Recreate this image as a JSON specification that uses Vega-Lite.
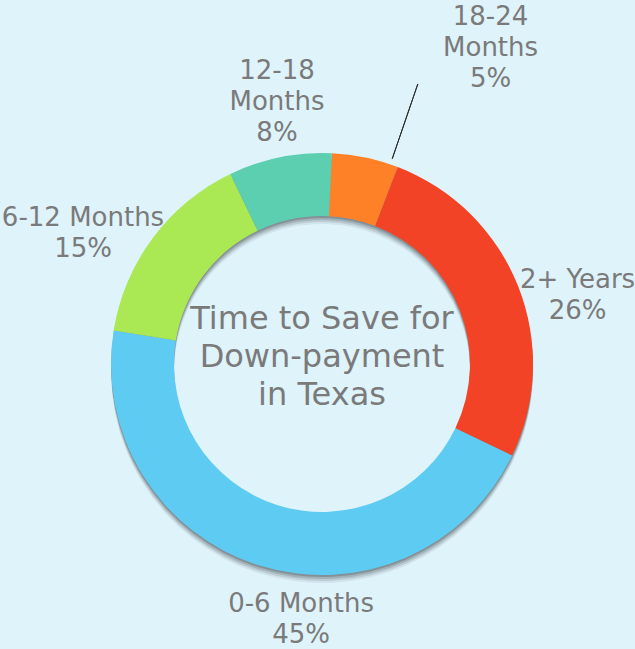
{
  "$schema": "https://vega.github.io/schema/vega-lite/v6.json",
  "width": 626,
  "height": 570,
  "autosize": {"type": "none"},
  "padding": {"left": 9, "top": 79, "right": 0, "bottom": 0},
  "background": "#dff3fb",
  "config": {"view": {"stroke": null}, "text": {"font": "DejaVu Sans"}},
  "data": {
    "values": [
      {"label": "18-24 Months", "pct": 5.1, "k": 1, "lbl": "18-24\nMonths\n5%"},
      {"label": "2+ Years", "pct": 26.3, "k": 2, "lbl": "2+ Years\n26%"},
      {"label": "0-6 Months", "pct": 45.4, "k": 3, "lbl": "0-6 Months\n45%"},
      {"label": "6-12 Months", "pct": 15.3, "k": 4, "lbl": "6-12 Months\n15%"},
      {"label": "12-18 Months", "pct": 7.9, "k": 5, "lbl": "12-18\nMonths\n8%"}
    ]
  },
  "layer": [
    {
      "mark": {"type": "arc", "radius": 211, "radius2": 148, "yOffset": 8, "fill": "#000000", "opacity": 0.06},
      "encoding": {
        "theta": {"field": "pct", "type": "quantitative", "stack": true, "scale": {"range": [0.047, 6.330]}},
        "order": {"field": "k", "type": "quantitative"},
        "detail": {"field": "label", "type": "nominal"}
      }
    },
    {
      "mark": {"type": "arc", "radius": 211, "radius2": 148, "yOffset": 6, "fill": "#000000", "opacity": 0.1},
      "encoding": {
        "theta": {"field": "pct", "type": "quantitative", "stack": true},
        "order": {"field": "k", "type": "quantitative"},
        "detail": {"field": "label", "type": "nominal"}
      }
    },
    {
      "mark": {"type": "arc", "radius": 211, "radius2": 148, "yOffset": 4, "fill": "#000000", "opacity": 0.13},
      "encoding": {
        "theta": {"field": "pct", "type": "quantitative", "stack": true},
        "order": {"field": "k", "type": "quantitative"},
        "detail": {"field": "label", "type": "nominal"}
      }
    },
    {
      "mark": {"type": "arc", "radius": 211, "radius2": 148, "yOffset": 2, "fill": "#000000", "opacity": 0.18},
      "encoding": {
        "theta": {"field": "pct", "type": "quantitative", "stack": true},
        "order": {"field": "k", "type": "quantitative"},
        "detail": {"field": "label", "type": "nominal"}
      }
    },
    {
      "mark": {"type": "arc", "radius": 211, "radius2": 148},
      "encoding": {
        "theta": {"field": "pct", "type": "quantitative", "stack": true},
        "order": {"field": "k", "type": "quantitative"},
        "color": {
          "field": "label",
          "type": "nominal",
          "scale": {
            "domain": ["18-24 Months", "2+ Years", "0-6 Months", "6-12 Months", "12-18 Months"],
            "range": ["#fe8127", "#f24326", "#5ecbf2", "#aae953", "#5ccfb1"]
          },
          "legend": null
        }
      }
    },
    {
      "transform": [{"filter": "datum.k === 1"}],
      "mark": {"type": "arc", "radius": 296, "radius2": 217, "fill": null, "stroke": "#2b2b2b", "strokeWidth": 1},
      "encoding": {
        "theta": {"datum": 4.5, "type": "quantitative"},
        "theta2": {"datum": 4.5}
      }
    },
    {
      "mark": {"type": "text", "radius": 386, "thetaOffset": 0.2447, "fontSize": 26, "lineHeight": 31, "lineBreak": "\n", "align": "center", "baseline": "middle", "fill": "#7a7a7a"},
      "encoding": {
        "theta": {"field": "pct", "type": "quantitative", "stack": true},
        "order": {"field": "k", "type": "quantitative"},
        "detail": {"field": "label", "type": "nominal"},
        "text": {"field": "lbl", "type": "nominal"},
        "opacity": {"condition": {"test": "datum.k === 1", "value": 1}, "value": 0}
      }
    },
    {
      "mark": {"type": "text", "radius": 269, "thetaOffset": 0.0599, "fontSize": 26, "lineHeight": 31, "lineBreak": "\n", "align": "center", "baseline": "middle", "fill": "#7a7a7a"},
      "encoding": {
        "theta": {"field": "pct", "type": "quantitative", "stack": true},
        "order": {"field": "k", "type": "quantitative"},
        "detail": {"field": "label", "type": "nominal"},
        "text": {"field": "lbl", "type": "nominal"},
        "opacity": {"condition": {"test": "datum.k === 2", "value": 1}, "value": 0}
      }
    },
    {
      "mark": {"type": "text", "radius": 241, "thetaOffset": -0.2175, "fontSize": 26, "lineHeight": 31, "lineBreak": "\n", "align": "center", "baseline": "middle", "fill": "#7a7a7a"},
      "encoding": {
        "theta": {"field": "pct", "type": "quantitative", "stack": true},
        "order": {"field": "k", "type": "quantitative"},
        "detail": {"field": "label", "type": "nominal"},
        "text": {"field": "lbl", "type": "nominal"},
        "opacity": {"condition": {"test": "datum.k === 3", "value": 1}, "value": 0}
      }
    },
    {
      "mark": {"type": "text", "radius": 280, "thetaOffset": -0.0925, "fontSize": 26, "lineHeight": 31, "lineBreak": "\n", "align": "center", "baseline": "middle", "fill": "#7a7a7a"},
      "encoding": {
        "theta": {"field": "pct", "type": "quantitative", "stack": true},
        "order": {"field": "k", "type": "quantitative"},
        "detail": {"field": "label", "type": "nominal"},
        "text": {"field": "lbl", "type": "nominal"},
        "opacity": {"condition": {"test": "datum.k === 4", "value": 1}, "value": 0}
      }
    },
    {
      "mark": {"type": "text", "radius": 296, "thetaOffset": 0.0487, "fontSize": 26, "lineHeight": 31, "lineBreak": "\n", "align": "center", "baseline": "middle", "fill": "#7a7a7a"},
      "encoding": {
        "theta": {"field": "pct", "type": "quantitative", "stack": true},
        "order": {"field": "k", "type": "quantitative"},
        "detail": {"field": "label", "type": "nominal"},
        "text": {"field": "lbl", "type": "nominal"},
        "opacity": {"condition": {"test": "datum.k === 5", "value": 1}, "value": 0}
      }
    },
    {
      "data": {"values": [{"t": "Time to Save for\nDown-payment\nin Texas"}]},
      "mark": {"type": "text", "fontSize": 32, "lineHeight": 38, "lineBreak": "\n", "align": "center", "baseline": "middle", "dy": -45, "fill": "#7a7a7a"},
      "encoding": {
        "text": {"field": "t", "type": "nominal"}
      }
    }
  ]
}
